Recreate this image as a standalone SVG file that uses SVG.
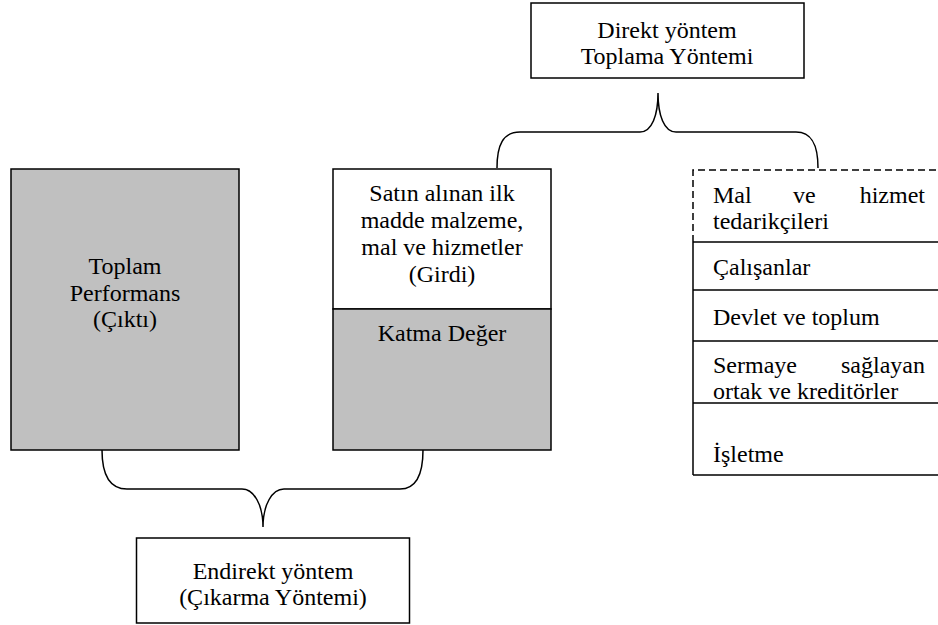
<svg xmlns="http://www.w3.org/2000/svg" width="938" height="625" viewBox="0 0 938 625">
<style>
text{font-family:"Liberation Serif","Times New Roman",serif;font-size:24px;fill:#000}
.c{text-anchor:middle}
.box{fill:#fff;stroke:#000;stroke-width:1.5}
.gray{fill:#c0c0c0;stroke:#000;stroke-width:1.5}
.ln{stroke:#000;stroke-width:1.5;fill:none}
.dash{stroke:#000;stroke-width:1.5;fill:none;stroke-dasharray:7 4}
</style>
<rect width="938" height="625" fill="#fff"/>
<g id="connectors">
<path class="ln" d="M497,168 C497,145 503,132 520,132 L640,132 C652,132 658,115 658,93 C658,115 664,132 676,132 L796,132 C812,132 818,145 818,168"/>
<path class="ln" d="M102,450 C102,475 110,489 127,489 L242,489 C254,489 263,505 263,527 C263,505 272,489 284,489 L400,489 C416,489 423,475 423,450"/>
</g>
<g id="direkt">
<rect class="box" x="531" y="3" width="273" height="75"/>
<text class="c" x="667" y="38">Direkt yöntem</text>
<text class="c" x="667" y="64">Toplama Yöntemi</text>
</g>
<g id="toplam">
<rect class="gray" x="11" y="169" width="228" height="281"/>
<text class="c" x="125" y="274">Toplam</text>
<text class="c" x="125" y="301">Performans</text>
<text class="c" x="125" y="327">(Çıktı)</text>
</g>
<g id="girdi">
<rect class="box" x="333" y="169" width="218" height="140"/>
<text class="c" x="442" y="201">Satın alınan ilk</text>
<text class="c" x="442" y="228">madde malzeme,</text>
<text class="c" x="442" y="255">mal ve hizmetler</text>
<text class="c" x="442" y="282">(Girdi)</text>
</g>
<g id="katma">
<rect class="gray" x="333" y="309" width="218" height="141"/>
<text class="c" x="442" y="341">Katma Değer</text>
</g>
<g id="endirekt">
<rect class="box" x="136.5" y="538" width="273" height="85"/>
<text class="c" x="273" y="579">Endirekt yöntem</text>
<text class="c" x="273" y="605">(Çıkarma Yöntemi)</text>
</g>
<g id="dagitim">
<path class="dash" d="M693,242 L693,170 L938,170"/>
<path class="ln" d="M693,242 L693,475 M693,242 L938,242 M693,290 L938,290 M693,341 L938,341 M693,403 L938,403 M693,475 L938,475"/>
<text x="713" y="203">Mal</text>
<text x="793" y="203">ve</text>
<text x="925" y="203" text-anchor="end">hizmet</text>
<text x="713" y="229">tedarikçileri</text>
<text x="713" y="275">Çalışanlar</text>
<text x="713" y="325">Devlet ve toplum</text>
<text x="713" y="373">Sermaye</text>
<text x="925" y="373" text-anchor="end">sağlayan</text>
<text x="713" y="399">ortak ve kreditörler</text>
<text x="713" y="462">İşletme</text>
</g>
</svg>
